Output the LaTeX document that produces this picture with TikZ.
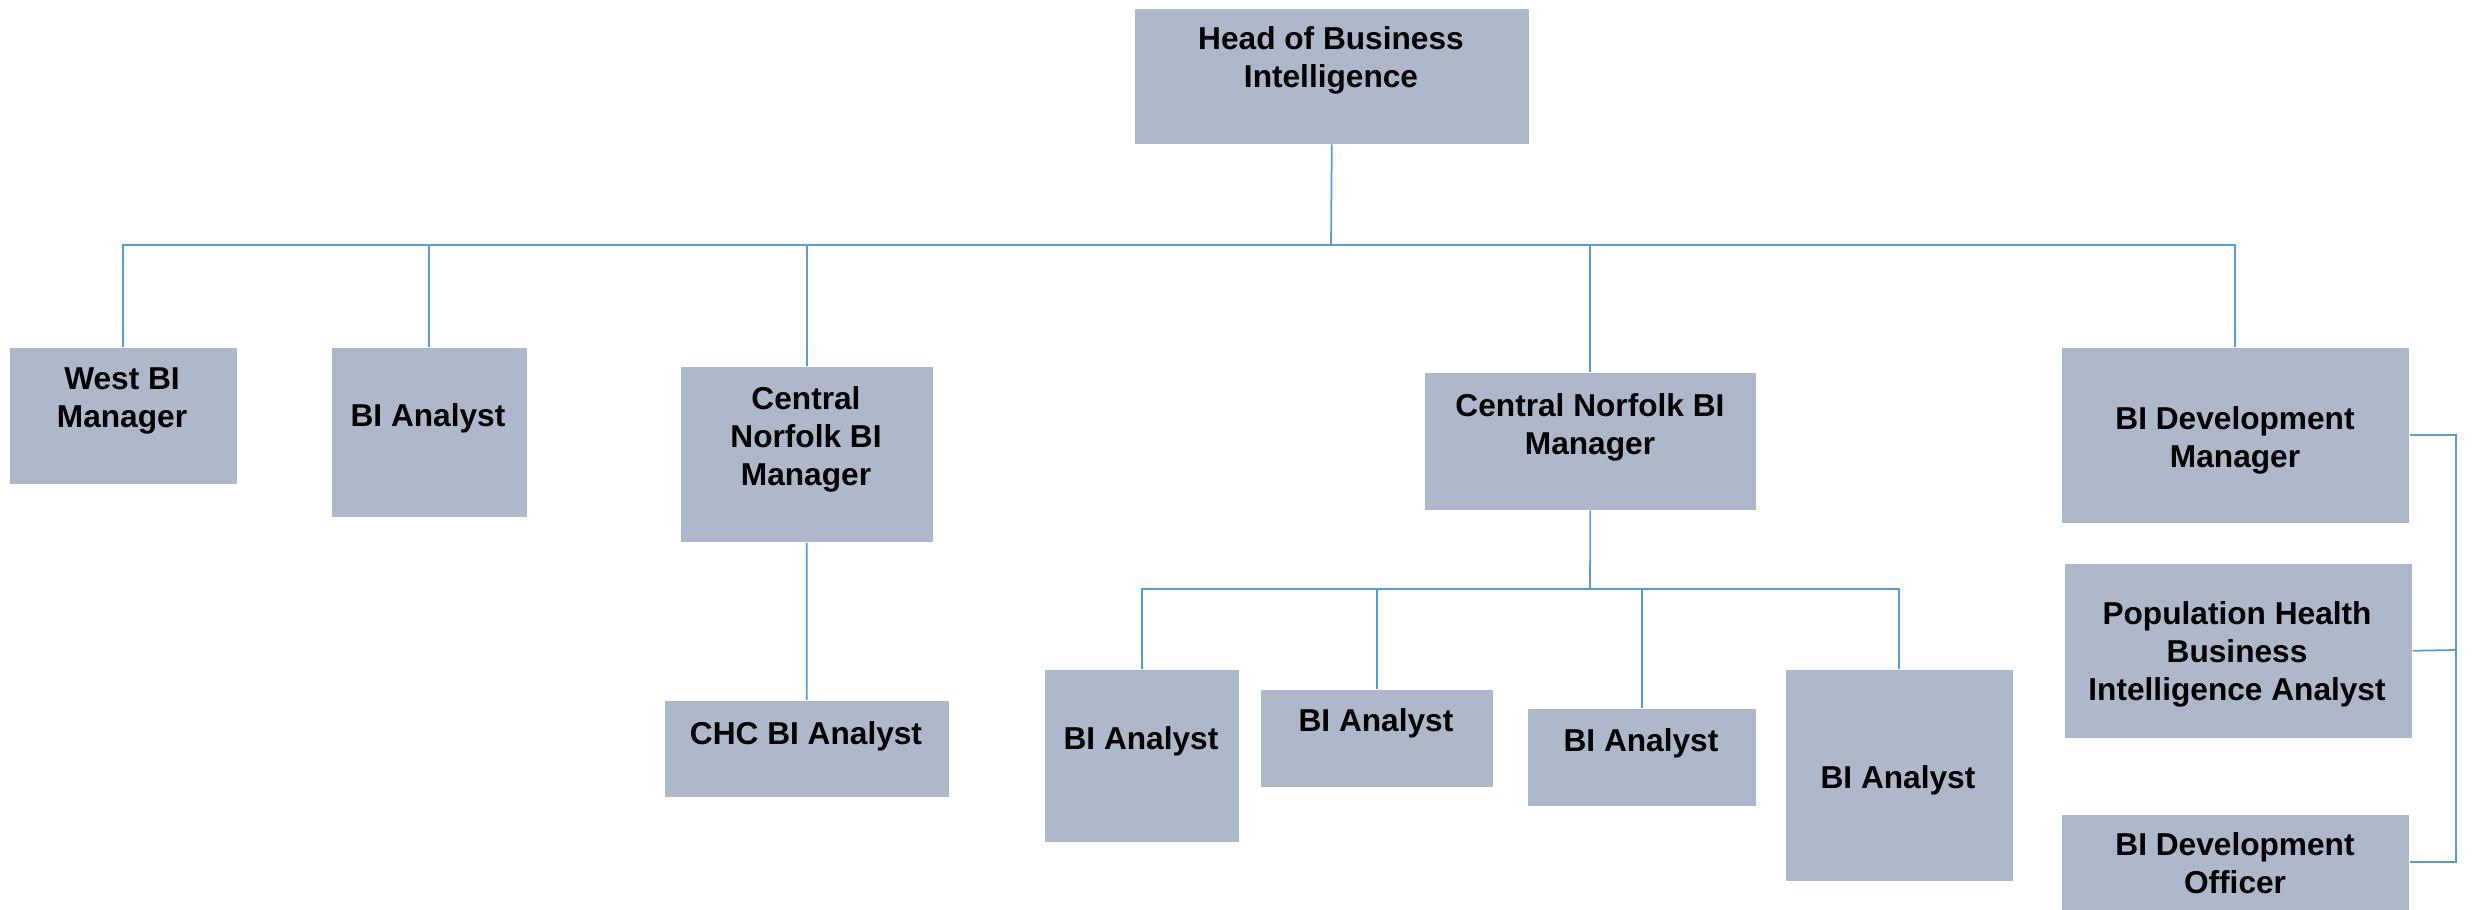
\documentclass[tikz,border=0pt]{standalone}
\usepackage{fontspec}
\setmainfont{Liberation Sans}
\usepackage{tikz}
\usetikzlibrary{calc}
\definecolor{boxfill}{RGB}{173,185,202}
\definecolor{linkblue}{RGB}{91,155,213}

\begin{document}
\begin{tikzpicture}[x=0.01cm, y=-0.01cm,
  box/.style={fill=boxfill, inner sep=0pt, anchor=north west},
  lbl/.style={anchor=north, inner sep=0pt, align=center, font=\fontsize{9}{10.8}\selectfont\bfseries},
  link/.style={draw=linkblue, line width=0.5pt}]
\useasboundingbox (0,0) rectangle (2473,909);
% boxes
\node[box, minimum width=3.94cm, minimum height=1.35cm] (head) at (1134,8) {};
\node[box, minimum width=2.27cm, minimum height=1.36cm] (west) at (9,347) {};
\node[box, minimum width=1.95cm, minimum height=1.69cm] (bia) at (331,347) {};
\node[box, minimum width=2.52cm, minimum height=1.75cm] (cnl) at (680,366) {};
\node[box, minimum width=2.84cm, minimum height=0.96cm] (chc) at (664,700) {};
\node[box, minimum width=3.31cm, minimum height=1.37cm] (cnm) at (1424,372) {};
\node[box, minimum width=3.47cm, minimum height=1.75cm] (bidm) at (2061,347) {};
\node[box, minimum width=3.47cm, minimum height=1.74cm] (pop) at (2064,563) {};
\node[box, minimum width=3.47cm, minimum height=0.95cm] (bido) at (2061,814) {};
\node[box, minimum width=1.94cm, minimum height=1.72cm] (ana) at (1044,669) {};
\node[box, minimum width=2.32cm, minimum height=0.97cm] (anb) at (1260,689) {};
\node[box, minimum width=2.28cm, minimum height=0.97cm] (anc) at (1527,708) {};
\node[box, minimum width=2.27cm, minimum height=2.11cm] (anD) at (1785,669) {};
% texts
\node[lbl] (headT) at (1331,26) {Head of Business\\Intelligence};
\node[lbl] (westT) at (122,367) {West BI\\Manager};
\node[lbl] (biaT) at (428,403) {BI Analyst};
\node[lbl] (cnlT) at (806,386) {Central\\Norfolk BI\\Manager};
\node[lbl] (chcT) at (806,721) {CHC BI Analyst};
\node[lbl] (cnmT) at (1590,393) {Central Norfolk BI\\Manager};
\node[lbl] (bidmT) at (2235,406) {BI Development\\Manager};
\node[lbl] (popT) at (2237,601) {Population Health\\Business\\Intelligence Analyst};
\node[lbl] (bidoT) at (2235,832) {BI Development\\Officer};
\node[lbl] (anaT) at (1141,726) {BI Analyst};
\node[lbl] (anbT) at (1376,708) {BI Analyst};
\node[lbl] (ancT) at (1641,728) {BI Analyst};
\node[lbl] (anDT) at (1898,765) {BI Analyst};
% connectors
\coordinate (bus) at (1331,245);
\coordinate (subbus) at (1590,589);
\coordinate (rail) at (2456,650);
\draw[link] (head.south) -- (bus);
\draw[link] (bus) -| (west.north);
\draw[link] (bus) -| (bia.north);
\draw[link] (bus) -| (cnl.north);
\draw[link] (bus) -| (cnm.north);
\draw[link] (bus) -| (bidm.north);
\draw[link] (cnl.south) -- (chc.north);
\draw[link] (cnm.south) -- (subbus);
\draw[link] (subbus) -| (ana.north);
\draw[link] (subbus) -| (anb.north);
\draw[link] (subbus) -| (anc.north);
\draw[link] (subbus) -| (anD.north);
\draw[link] (bidm.east) -| (rail) |- (bido.east);
\draw[link] (pop.east) -- (rail);
\end{tikzpicture}
\end{document}
